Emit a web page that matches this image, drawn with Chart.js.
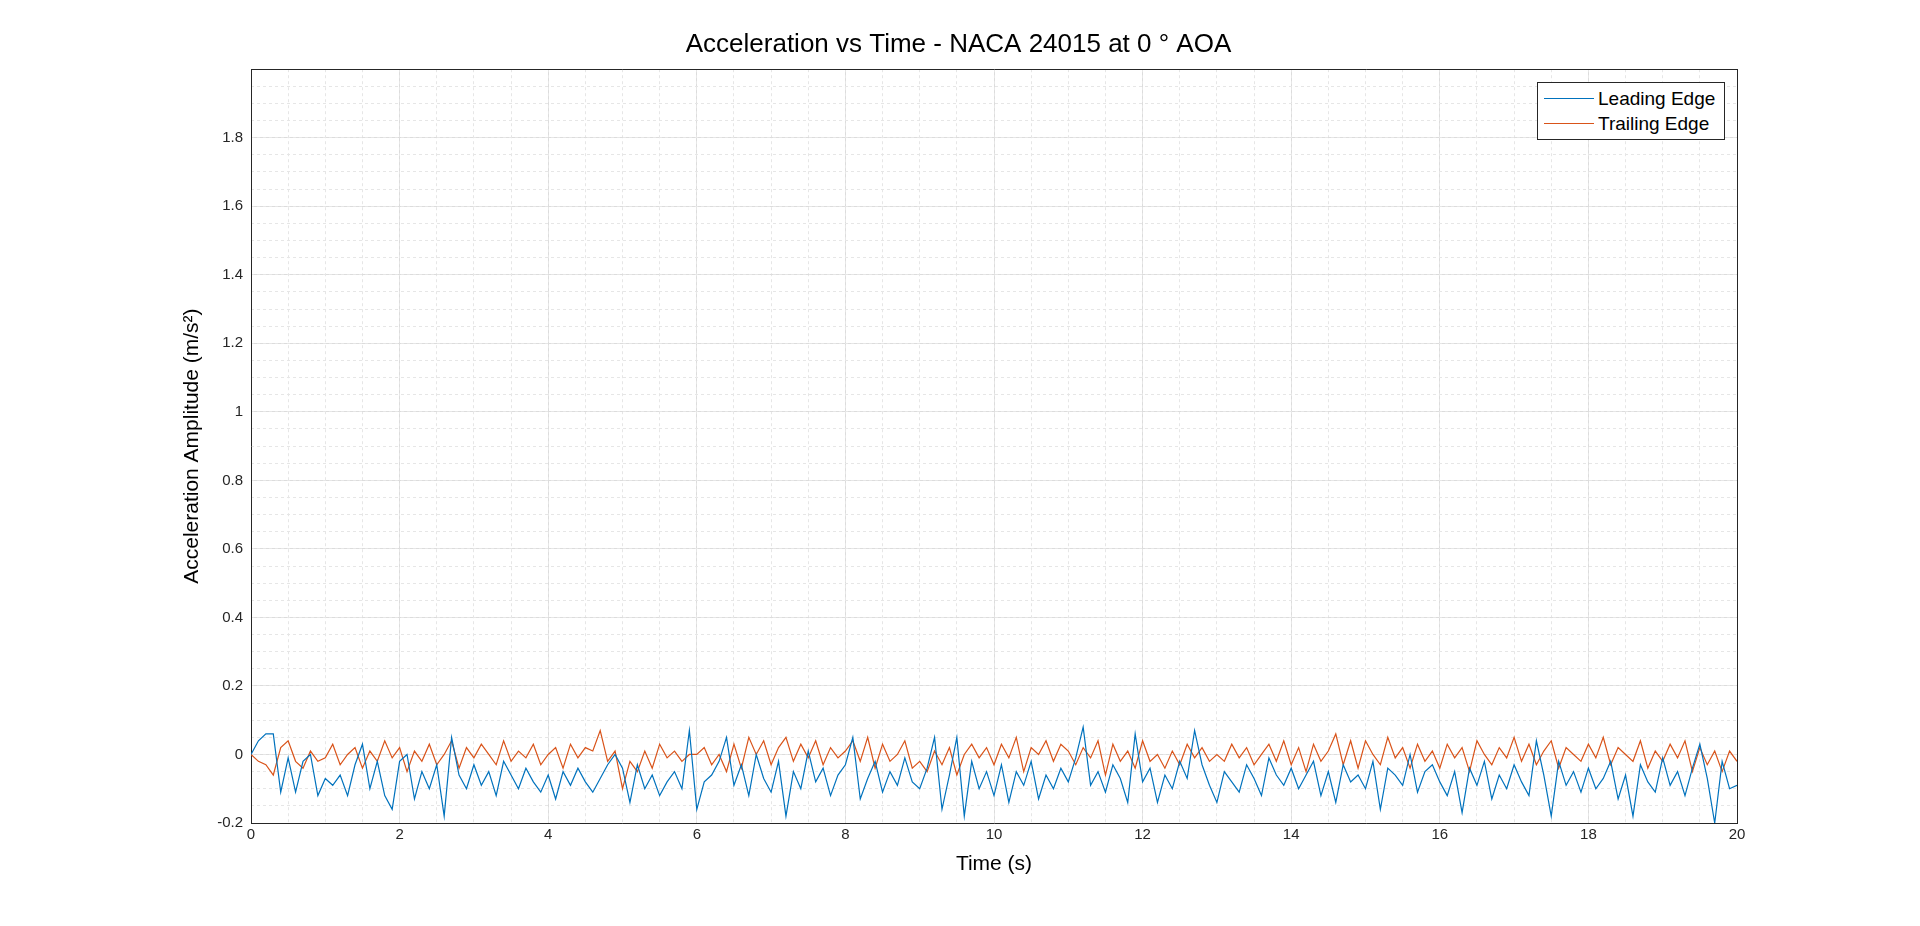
<!DOCTYPE html>
<html>
<head>
<meta charset="utf-8">
<script src="https://cdn.jsdelivr.net/npm/chart.js@4"></script>
<style>
  html, body { margin: 0; padding: 0; background: #fff; }
  #wrap { position: relative; width: 1920px; height: 926px; }
  #legend {
    position: absolute; left: 1537px; top: 82px; width: 186px;
    border: 1px solid #262626; background: #fff; padding: 3px 0;
    font-family: Arial, "Liberation Sans", sans-serif; font-size: 19px; color: #000;
  }
  #legend div { display: flex; align-items: center; height: 25px; }
  #legend span.sw { display: inline-block; width: 50px; height: 0; border-top: 1.2px solid; margin: 0 4px 0 6px; }
</style>
</head>
<body>
<div id="wrap"><canvas id="accChart"></canvas><div id="legend"></div></div>
<script>
// sample spacing of the read-off values (s)
const sampleStep = 0.1;

const leadingEdge = [
  0, 0.04, 0.06, 0.06, -0.11, -0.01, -0.11, -0.02, 0.0, -0.12,
  -0.07, -0.09, -0.06, -0.12, -0.03, 0.03, -0.1, -0.02, -0.12, -0.16,
  -0.02, 0.0, -0.13, -0.05, -0.1, -0.03, -0.18, 0.05, -0.06, -0.1,
  -0.03, -0.09, -0.05, -0.12, -0.02, -0.06, -0.1, -0.04, -0.08, -0.11,
  -0.06, -0.13, -0.05, -0.09, -0.04, -0.08, -0.11, -0.07, -0.03, 0.0,
  -0.04, -0.14, -0.03, -0.1, -0.06, -0.12, -0.08, -0.05, -0.1, 0.07,
  -0.16, -0.08, -0.06, -0.02, 0.05, -0.09, -0.03, -0.12, 0.0, -0.07,
  -0.11, -0.02, -0.18, -0.05, -0.1, 0.01, -0.08, -0.04, -0.12, -0.06,
  -0.03, 0.05, -0.13, -0.07, -0.02, -0.11, -0.05, -0.09, -0.01, -0.08,
  -0.1, -0.04, 0.05, -0.16, -0.06, 0.05, -0.18, -0.02, -0.1, -0.05,
  -0.12, -0.03, -0.14, -0.05, -0.09, -0.02, -0.13, -0.06, -0.1, -0.04,
  -0.08, -0.01, 0.08, -0.09, -0.05, -0.11, -0.03, -0.07, -0.14, 0.06,
  -0.08, -0.04, -0.14, -0.06, -0.1, -0.02, -0.07, 0.07, -0.03, -0.09,
  -0.14, -0.05, -0.08, -0.11, -0.03, -0.07, -0.12, -0.01, -0.06, -0.09,
  -0.04, -0.1, -0.06, -0.02, -0.12, -0.05, -0.14, -0.03, -0.08, -0.06,
  -0.1, -0.02, -0.16, -0.04, -0.06, -0.09, 0.0, -0.11, -0.05, -0.03,
  -0.08, -0.12, -0.05, -0.17, -0.04, -0.09, -0.02, -0.13, -0.06, -0.1,
  -0.03, -0.08, -0.12, 0.04, -0.06, -0.18, -0.02, -0.09, -0.05, -0.11,
  -0.04, -0.1, -0.07, -0.02, -0.13, -0.06, -0.18, -0.03, -0.08, -0.11,
  -0.01, -0.09, -0.05, -0.12, -0.04, 0.03, -0.07, -0.2, -0.02, -0.1,
  -0.09
];

const trailingEdge = [
  0.0, -0.02, -0.03, -0.06, 0.02, 0.04, -0.02, -0.04, 0.01, -0.02,
  -0.01, 0.03, -0.03, 0.0, 0.02, -0.04, 0.01, -0.02, 0.04, -0.01,
  0.02, -0.05, 0.01, -0.02, 0.03, -0.03, 0.0, 0.04, -0.04, 0.02,
  -0.01, 0.03, 0.0, -0.03, 0.04, -0.02, 0.01, -0.01, 0.03, -0.03,
  0.0, 0.02, -0.04, 0.03, -0.01, 0.02, 0.01, 0.07, -0.02, 0.01,
  -0.1, -0.02, -0.05, 0.01, -0.04, 0.03, -0.01, 0.01, -0.02, 0.0,
  0.0, 0.02, -0.03, 0.0, -0.05, 0.03, -0.04, 0.05, 0.0, 0.04,
  -0.03, 0.02, 0.05, -0.02, 0.03, -0.01, 0.04, -0.03, 0.02, -0.01,
  0.01, 0.04, -0.02, 0.05, -0.04, 0.03, -0.02, 0.0, 0.04, -0.04,
  -0.02, -0.05, 0.01, -0.03, 0.02, -0.06, 0.0, 0.03, -0.01, 0.02,
  -0.03, 0.03, -0.01, 0.05, -0.05, 0.02, 0.0, 0.04, -0.02, 0.03,
  0.01, -0.03, 0.02, -0.01, 0.04, -0.06, 0.03, -0.02, 0.01, -0.04,
  0.04, -0.02, 0.0, -0.04, 0.01, -0.03, 0.03, -0.01, 0.02, -0.02,
  0.0, -0.02, 0.03, -0.01, 0.02, -0.03, 0.0, 0.03, -0.02, 0.04,
  -0.03, 0.02, -0.05, 0.03, -0.02, 0.01, 0.06, -0.03, 0.04, -0.04,
  0.04, 0.0, -0.03, 0.05, -0.01, 0.02, -0.04, 0.03, -0.02, 0.01,
  -0.04, 0.03, -0.01, 0.02, -0.05, 0.04, 0.0, -0.03, 0.02, -0.01,
  0.05, -0.02, 0.03, -0.03, 0.01, 0.04, -0.04, 0.02, 0.0, -0.02,
  0.03, -0.01, 0.05, -0.03, 0.02, 0.0, -0.02, 0.04, -0.04, 0.01,
  -0.02, 0.03, -0.01, 0.04, -0.05, 0.02, -0.03, 0.01, -0.05, 0.01,
  -0.02
];

const seriesNames = ['Leading Edge', 'Trailing Edge'];
const seriesColors = ['#0072BD', '#D95319'];

const toPoints = arr => arr.map((v, i) => ({ x: +(i * sampleStep).toFixed(2), y: v }));

const font = 'Arial, "Liberation Sans", sans-serif';

// HTML legend inside the plot, MATLAB style
document.getElementById('legend').innerHTML = seriesNames
  .map((n, i) => `<div><span class="sw" style="border-color:${seriesColors[i]}"></span>${n}</div>`)
  .join('');

// keep helper axes from taking room
const noSpace = axis => { axis.width = 0; axis.height = 0; };

new Chart(document.getElementById('accChart'), {
  type: 'line',
  data: {
    datasets: [
      { label: seriesNames[0], data: toPoints(leadingEdge), borderColor: seriesColors[0], borderWidth: 1.2, pointRadius: 0, tension: 0 },
      { label: seriesNames[1], data: toPoints(trailingEdge), borderColor: seriesColors[1], borderWidth: 1.2, pointRadius: 0, tension: 0 }
    ]
  },
  options: {
    responsive: true,
    maintainAspectRatio: false,
    animation: false,
    layout: { padding: { left: 180, right: 183, top: 0, bottom: 45 } },
    plugins: {
      title: {
        display: true,
        text: 'Acceleration vs Time - NACA 24015 at 0 ° AOA',
        color: '#000',
        font: { family: font, size: 26, weight: 'normal' },
        padding: { top: 29, bottom: 9 }
      },
      legend: { display: false },
      tooltip: { enabled: false }
    },
    scales: {
      x: {
        type: 'linear',
        min: 0, max: 20,
        afterFit: a => { a.height = 58; },
        ticks: { stepSize: 2, color: '#262626', font: { family: font, size: 15 }, maxRotation: 0 },
        grid: { color: '#dcdcdc', tickLength: 0 },
        border: { color: '#262626' },
        title: { display: true, text: 'Time (s)', color: '#000', font: { family: font, size: 21 }, padding: { top: 4 } }
      },
      xMinor: {
        type: 'linear', position: 'bottom',
        min: 0, max: 20,
        afterFit: noSpace,
        ticks: { display: false, stepSize: 0.5 },
        grid: { color: '#e6e6e6', drawTicks: false },
        border: { display: false, dash: [3, 3] }
      },
      y: {
        min: -0.2, max: 2.0,
        afterFit: a => { a.width = 71; },
        ticks: {
          stepSize: 0.2,
          color: '#262626',
          font: { family: font, size: 15 },
          padding: 8,
          callback: v => (Math.abs(v - 2) < 1e-6 ? '' : +v.toFixed(1))
        },
        grid: { color: '#dcdcdc', tickLength: 0 },
        border: { color: '#262626' },
        title: { display: true, text: 'Acceleration Amplitude (m/s²)', color: '#000', font: { family: font, size: 21 }, padding: 0 }
      },
      yMinor: {
        position: 'left',
        min: -0.2, max: 2.0,
        afterFit: noSpace,
        ticks: { display: false, stepSize: 0.05 },
        grid: { color: '#e6e6e6', drawTicks: false },
        border: { display: false, dash: [3, 3] }
      },
      yRight: {
        position: 'right',
        min: -0.2, max: 2.0,
        afterFit: noSpace,
        ticks: { display: false },
        grid: { display: false },
        border: { color: '#262626' }
      },
      xTop: {
        type: 'linear', position: 'top',
        min: 0, max: 20,
        afterFit: noSpace,
        ticks: { display: false },
        grid: { display: false },
        border: { color: '#262626' }
      }
    }
  }
});
</script>
</body>
</html>
